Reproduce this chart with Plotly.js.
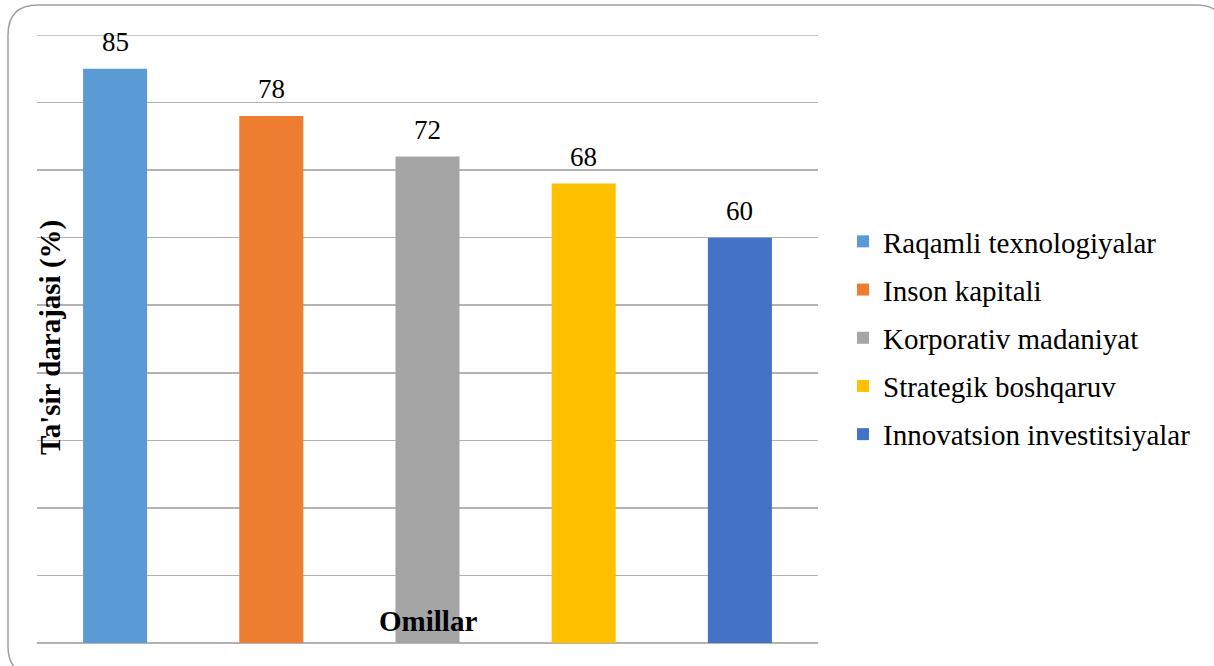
<!DOCTYPE html>
<html>
<head>
<meta charset="utf-8">
<script src="https://cdn.plot.ly/plotly-3.0.1.min.js"></script>
<style>
html,body{margin:0;padding:0;background:#fff;}
#chart{width:1214px;height:666px;}
#chart text.legendtext, #chart text.annotation-text{font-family:'Liberation Serif','Times New Roman',serif !important;}
</style>
</head>
<body>
<div id="chart"></div>
<script>
// ---- data ----
const categories = ["Raqamli texnologiyalar", "Inson kapitali", "Korporativ madaniyat", "Strategik boshqaruv", "Innovatsion investitsiyalar"];
const values = [85, 78, 72, 68, 60];
const colors = ["#5B9BD5", "#ED7D31", "#A5A5A5", "#FFC000", "#4472C4"];
const xTitle = "Omillar";
const yTitle = "Ta'sir darajasi (%)";
const yMax = 90;

// ---- layout geometry (pixels) ----
const W = 1214, H = 666;
const mL = 37, mR = 396, mT = 35, mB = 23;
const pw = W - mL - mR, ph = H - mT - mB;
const px = x => (x - mL) / pw;
const py = y => (H - mB - y) / ph;

function roundedRect(l, t, r, b, rad) {
  const P = (x, y) => px(x) + "," + py(y);
  return "M" + P(l + rad, t) + " L" + P(r - rad, t) + " Q" + P(r, t) + " " + P(r, t + rad) +
    " L" + P(r, b - rad) + " Q" + P(r, b) + " " + P(r - rad, b) +
    " L" + P(l + rad, b) + " Q" + P(l, b) + " " + P(l, b - rad) +
    " L" + P(l, t + rad) + " Q" + P(l, t) + " " + P(l + rad, t) + " Z";
}

const font = "Liberation Serif";
const gridColor = "#b3b3b3";

const traces = categories.map((c, i) => ({
  type: "bar",
  x: [c],
  y: [values[i]],
  name: c,
  legendgroup: "g" + i,
  marker: {color: colors[i], line: {width: 0}},
  hoverinfo: "x+y"
}));

const labelAnns = categories.map((c, i) => ({
  xref: "x", yref: "y", x: c, y: values[i],
  text: String(values[i]), showarrow: false,
  yanchor: "bottom", yshift: 10,
  font: {family: font, size: 27, color: "#000"}
}));

const layout = {
  width: W, height: H,
  font: {family: font, color: "#000"},
  margin: {l: mL, r: mR, t: mT, b: mB, pad: 0},
  paper_bgcolor: "#fff", plot_bgcolor: "#fff",
  barmode: "overlay",
  bargap: 0.59,
  showlegend: true,
  legend: {
    x: px(843), y: py(216), xanchor: "left", yanchor: "top",
    font: {family: font, size: 29, color: "#000"},
    traceorder: "grouped", tracegroupgap: 7.5,
    bgcolor: "rgba(0,0,0,0)"
  },
  xaxis: {
    type: "category", categoryarray: categories,
    showticklabels: false, ticks: "", showgrid: false, showline: false, zeroline: false
  },
  yaxis: {
    range: [0, yMax], dtick: 10, tick0: 0,
    showticklabels: false, ticks: "",
    showgrid: true, gridcolor: gridColor, gridwidth: 1.5,
    zeroline: true, zerolinecolor: gridColor, zerolinewidth: 1.5,
    showline: false, fixedrange: true
  },
  shapes: [{
    type: "path", xref: "paper", yref: "paper",
    path: roundedRect(8, 5, 1226, 676, 30),
    line: {color: "#a0a0a0", width: 1.5}, fillcolor: "rgba(0,0,0,0)", layer: "below"
  }, {
    type: "line", xref: "paper", yref: "y", x0: 0, x1: 1, y0: yMax, y1: yMax,
    line: {color: gridColor, width: 1.5}, layer: "below"
  }],
  annotations: labelAnns.concat([
    {xref: "paper", yref: "paper", x: px(50), y: py(338), textangle: -90,
     text: "<b>" + yTitle + "</b>", showarrow: false, xanchor: "center", yanchor: "middle",
     font: {family: font, size: 29, color: "#000"}},
    {xref: "paper", yref: "paper", x: px(428), y: py(621),
     text: "<b>" + xTitle + "</b>", showarrow: false, xanchor: "center", yanchor: "middle",
     font: {family: font, size: 29, color: "#000"}}
  ])
};

const config = {displayModeBar: false, staticPlot: true};
Plotly.newPlot("chart", traces, layout, config).then(() => {
  if (document.fonts && document.fonts.load) {
    Promise.all([
      document.fonts.load("29px 'Liberation Serif'"),
      document.fonts.load("bold 29px 'Liberation Serif'")
    ]).then(() => Plotly.react("chart", traces, layout, config)).catch(() => {});
  }
});
</script>
</body>
</html>
